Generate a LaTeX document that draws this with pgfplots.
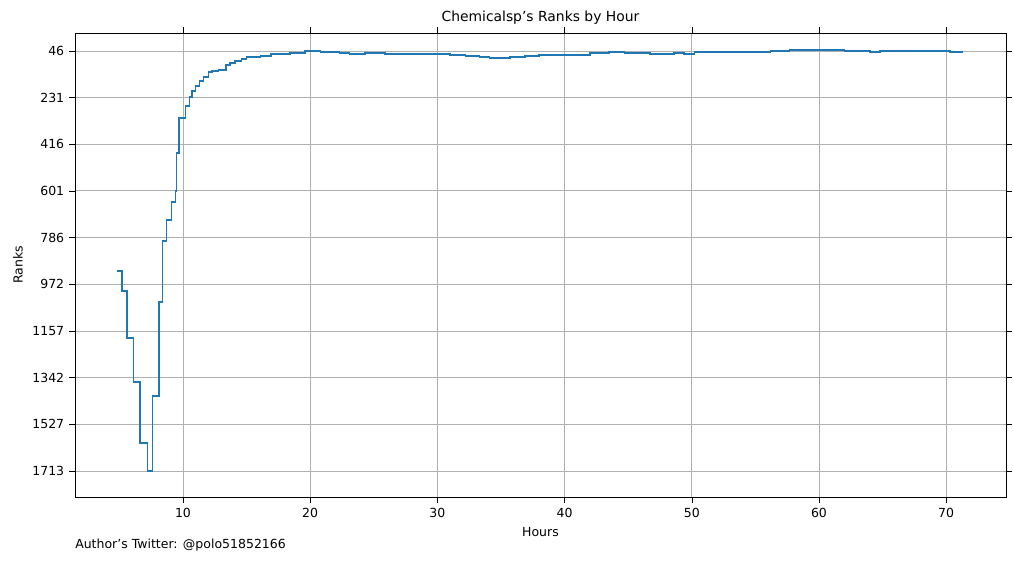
\documentclass[border=0pt]{standalone}
\usepackage{pgfplots}
\pgfplotsset{compat=1.18}
\usepackage{fontspec}
\setmainfont{DejaVu Sans}
\definecolor{mblue}{HTML}{1F77B4}
\begin{document}
\begin{tikzpicture}
\path[use as bounding box] (-54pt,-46.8pt) rectangle (676.1pt,357.9pt);
\begin{axis}[
  at={(0,0)}, anchor=south west,
  scale only axis, width=670.3pt, height=334.1pt,
  xmin=1.51, xmax=74.7, ymin=-25, ymax=1816, y dir=reverse,
  xtick={10,20,...,70},
  ytick={46,231,416,601,786,972,1157,1342,1527,1713},
  yticklabels={46,231,416,601,786,972,1157,1342,1527,1713},
  grid=major, grid style={color=black!31, line width=0.6pt},
  tick style={black}, tick align=outside,
  /pgf/number format/assume math mode=true,
  ticklabel style={font=\small},
  xlabel={Hours}, ylabel={Ranks},
  label style={font=\small},
  title={Chemicalsp's Ranks by Hour}, title style={font=\normalsize, yshift=-3pt},
  clip=false,
]
\addplot[const plot, color=mblue, line width=1.1pt] coordinates {
(4.8,919)(5.2,998)(5.6,1185)(6.1,1359)(6.6,1601)(7.2,1713)(7.6,1415)(8.1,1042)
(8.4,800)(8.7,717)(9.1,645)(9.4,601)(9.5,451)(9.7,312)(10.2,264)(10.5,228)
(10.7,205)(11.0,185)(11.3,165)(11.6,149)(12.0,129)(12.3,125)(12.8,121)(13.4,101)
(13.7,94)(14.1,86)(14.6,78)(15.0,70)(16.1,66)(16.9,58)(18.4,54)(19.6,46)
(20.8,50)(22.3,54)(23.1,58)(24.3,54)(25.9,58)(31,62)(32.2,66)(33.3,70)
(34.1,74)(35.7,70)(36.9,66)(38,62)(40,62)(42,54)(43.5,50)(44.7,54)
(46.7,58)(48.6,54)(49.4,58)(50.2,50)(56.2,46)(57.7,42)(62,46)(64,50)
(64.8,46)(70.3,50)(71.3,50)
};
\end{axis}
\node[anchor=west, font=\small, inner sep=0pt] at (0,-34.6pt) {Author's Twitter: @polo51852166};
\end{tikzpicture}
\end{document}
